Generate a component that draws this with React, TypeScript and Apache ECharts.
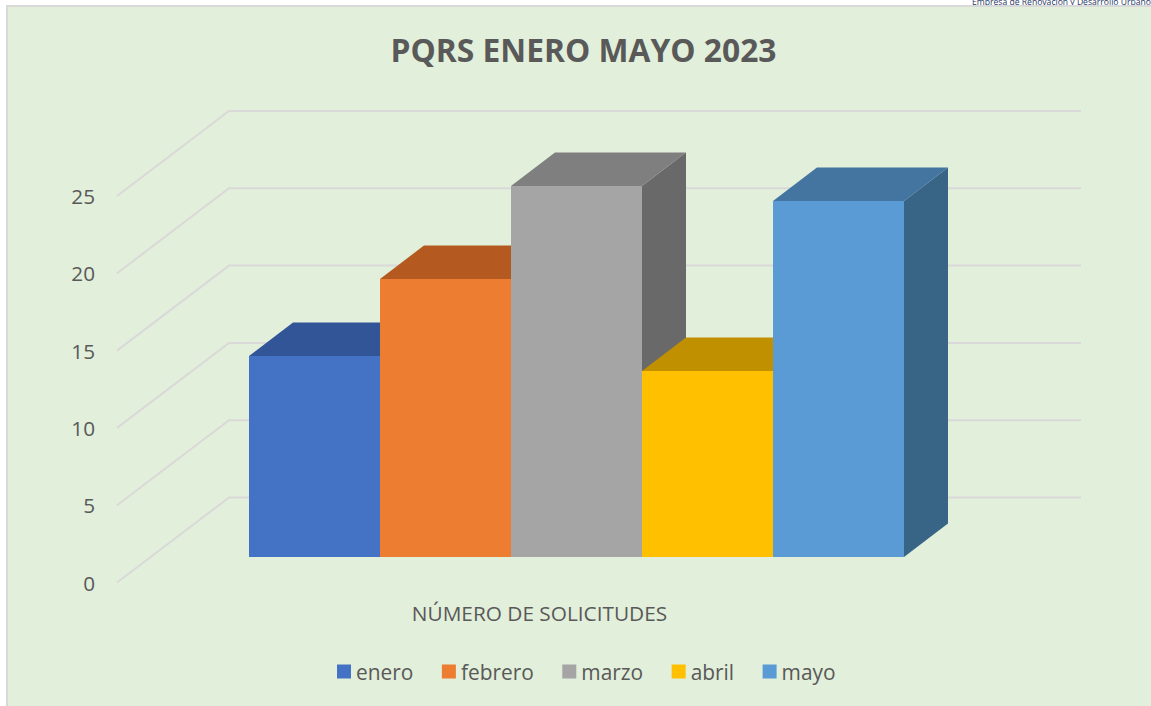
import React, { useEffect, useRef } from "react";
import * as echarts from "echarts";

const chartTitle = "PQRS ENERO MAYO 2023";
const categories = ["NÚMERO DE SOLICITUDES"];
const months = ["enero", "febrero", "marzo", "abril", "mayo"];
const values = [13, 18, 24, 12, 23];
const gridTicks = [0, 5, 10, 15, 20, 25];
const frontColors = ["#4472C4", "#ED7D31", "#A5A5A5", "#FFC000", "#5B9BD5"];
const topColors = ["#325597", "#B45A20", "#7F7F7F", "#C09000", "#4474A0"];
const sideColors = ["#2B4A85", "#9A4E1C", "#696969", "#A67C00", "#386486"];
const watermark = "Empresa de Renovación y Desarrollo Urbano";

const FONT = "'Open Sans', sans-serif";
const TEXT = "#595959";
const GRIDLINE = "#D9D9D9";
const GRID_LEFT = 117;
const GRID_WIDTH = 852;
const GRID_TOP = 196;
const GRID_HEIGHT = 386.5;
const WALL_DX = 112;
const WALL_DY = 85;
const BAR_DX = 44;
const BAR_DY = 33.5;
const FLOOR_LIFT = 25.5;
const BAR_START = 132 / GRID_WIDTH;
const BAR_WIDTH = 131 / GRID_WIDTH;

export default function App() {
  const ref = useRef<HTMLDivElement>(null);
  useEffect(() => {
    const chart = echarts.init(ref.current!, null, { renderer: "svg" });

    const gridSeries: any = {
      name: "gridlines",
      type: "custom",
      silent: true,
      z: 1,
      data: gridTicks.map((t) => [0, t]),
      encode: { x: 0, y: 1 },
      renderItem: (params: any, api: any) => {
        const y = api.coord([0, api.value(1)])[1];
        const sys = params.coordSys;
        return {
          type: "polyline",
          shape: {
            points: [
              [sys.x, y],
              [sys.x + WALL_DX, y - WALL_DY],
              [sys.x + sys.width + WALL_DX, y - WALL_DY],
            ],
          },
          style: { fill: "none", stroke: GRIDLINE, lineWidth: 2 },
        };
      },
    };

    const barSeries: any[] = months.map((name, i) => ({
      name,
      type: "custom",
      z: 2 + i,
      itemStyle: { color: frontColors[i] },
      data: [[0, values[i]]],
      encode: { x: 0, y: 1 },
      renderItem: (params: any, api: any) => {
        const sys = params.coordSys;
        const x0 = Math.round(sys.x + sys.width * (BAR_START + BAR_WIDTH * i));
        const x1 = Math.round(sys.x + sys.width * (BAR_START + BAR_WIDTH * (i + 1)));
        const top = Math.round(api.coord([0, api.value(1)])[1] - FLOOR_LIFT);
        const base = Math.round(api.coord([0, 0])[1] - FLOOR_LIFT);
        return {
          type: "group",
          children: [
            {
              type: "polygon",
              shape: {
                points: [
                  [x1, base],
                  [x1 + BAR_DX, base - BAR_DY],
                  [x1 + BAR_DX, top - BAR_DY],
                  [x1, top],
                ],
              },
              style: { fill: sideColors[i] },
            },
            {
              type: "polygon",
              shape: {
                points: [
                  [x0, top],
                  [x0 + BAR_DX, top - BAR_DY],
                  [x1 + BAR_DX, top - BAR_DY],
                  [x1, top],
                ],
              },
              style: { fill: topColors[i] },
            },
            {
              type: "rect",
              shape: { x: x0, y: top, width: x1 - x0, height: base - top },
              style: { fill: frontColors[i] },
            },
          ],
        };
      },
    }));

    chart.setOption({
      animation: false,
      backgroundColor: "#FFFFFF",
      title: {
        text: chartTitle,
        left: 578.5,
        top: 28,
        textAlign: "center",
        textStyle: { fontFamily: FONT, fontSize: 31.8, fontWeight: "bold", color: TEXT },
      },
      graphic: [
        {
          type: "text",
          z: -2,
          silent: true,
          style: {
            x: 972,
            y: -3,
            text: watermark,
            font: "8.6px 'Open Sans', sans-serif",
            fill: "#1F3864",
          },
        },
        {
          type: "rect",
          z: -1,
          silent: true,
          shape: { x: 7, y: 6, width: 1160, height: 720 },
          style: { fill: "#E2EFDA", stroke: GRIDLINE, lineWidth: 2 },
        },
      ],
      legend: {
        data: months,
        left: 332,
        top: 656,
        icon: "rect",
        itemWidth: 14,
        itemHeight: 14,
        itemGap: 28.5,
        textStyle: { fontFamily: FONT, fontSize: 20.9, color: TEXT },
      },
      grid: { left: GRID_LEFT, width: GRID_WIDTH, top: GRID_TOP, height: GRID_HEIGHT, containLabel: false },
      xAxis: {
        type: "category",
        data: categories,
        axisLine: { show: false },
        axisTick: { show: false },
        axisLabel: {
          fontFamily: FONT,
          fontSize: 20.8,
          color: TEXT,
          margin: 20,
          padding: [0, 7, 0, 0],
        },
      },
      yAxis: {
        type: "value",
        min: 0,
        max: 25,
        interval: 5,
        axisLine: { show: false },
        axisTick: { show: false },
        splitLine: { show: false },
        axisLabel: {
          fontFamily: FONT,
          fontSize: 20.7,
          color: TEXT,
          margin: 22,
          padding: [2, 0, 0, 0],
        },
      },
      series: [gridSeries, ...barSeries],
    });
    return () => chart.dispose();
  }, []);
  return (
    <div
      ref={ref}
      style={{ position: "fixed", left: 0, top: 0, width: 1151, height: 706 }}
    />
  );
}
